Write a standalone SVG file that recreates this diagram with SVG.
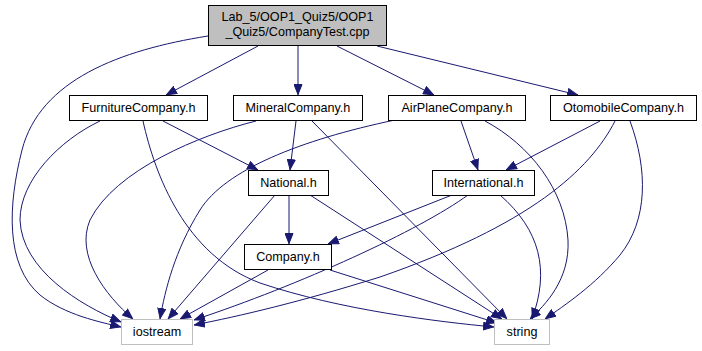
<svg xmlns="http://www.w3.org/2000/svg" width="702" height="351" viewBox="0 0 702 351">
  <style>
    .node rect { fill: #ffffff; stroke: #000000; stroke-width: 1; }
    .node.root rect { fill: #bfbfbf; }
    .node.ext rect { stroke: #bfbfbf; }
    .node text { font-family: "Liberation Sans", Arial, sans-serif; font-size: 12.6px; fill: #000000; text-anchor: middle; }
    .edges path { fill: none; stroke: #191970; stroke-width: 1; marker-end: url(#arrow); }
  </style>
  <defs>
    <marker id="arrow" markerUnits="userSpaceOnUse" markerWidth="11" markerHeight="9" refX="11" refY="4.5" orient="auto">
      <path d="M0.5,0.5 L10.5,4.5 L0.5,8.5 z" fill="#191970" stroke="#191970" stroke-width="1"/>
    </marker>
  </defs>
  <rect width="702" height="351" fill="#ffffff"/>

  <g class="edges">
    <!-- CompanyTest.cpp includes -->
    <path d="M258,46 L166,95"/>
    <path d="M298,46 L298,95"/>
    <path d="M337,46 L434,95"/>
    <path d="M377,46 L578,95"/>
    <path d="M208,36 C120,50 40,80 22,150 C8,205 5,265 40,295 C65,315 100,322 121,327"/>
    <!-- FurnitureCompany.h -->
    <path d="M100,121 C60,140 20,180 20,220 C22,270 80,305 121,322"/>
    <path d="M163,121 L258,170"/>
    <path d="M143,121 C155,175 185,255 260,283 C340,310 440,322 494,327"/>
    <!-- MineralCompany.h -->
    <path d="M256,121 C200,135 115,170 90,220 C75,255 105,295 133,319"/>
    <path d="M296,121 L290,170"/>
    <path d="M312,121 L507,319"/>
    <!-- AirPlaneCompany.h -->
    <path d="M395,120 C300,140 225,170 200,210 C175,250 165,290 160,319"/>
    <path d="M461,121 L478,170"/>
    <path d="M485,121 C530,145 565,190 568,240 C570,280 545,305 530,319"/>
    <!-- OtomobileCompany.h -->
    <path d="M600,121 L506,170"/>
    <path d="M615,121 C590,170 530,225 380,277 C300,302 240,316 194,325"/>
    <path d="M630,121 C648,170 648,220 620,255 C595,285 565,305 545,319"/>
    <!-- National.h -->
    <path d="M289,195 L289,244"/>
    <path d="M275,195 L168,319"/>
    <path d="M310,195 L502,319"/>
    <!-- International.h -->
    <path d="M452,195 L328,244"/>
    <path d="M468,195 C420,230 300,285 194,320"/>
    <path d="M500,195 C540,230 550,270 532,319"/>
    <!-- Company.h -->
    <path d="M268,270 L180,319"/>
    <path d="M330,270 L497,323"/>
  </g>

  <g id="node-companytest" class="node root">
    <rect x="208.5" y="5.5" width="178" height="40"/>
    <text x="297.5" y="21">Lab_5/OOP1_Quiz5/OOP1</text>
    <text x="297.5" y="36">_Quiz5/CompanyTest.cpp</text>
  </g>
  <g id="node-furniture" class="node">
    <rect x="69.5" y="95.5" width="138" height="25"/>
    <text x="138.5" y="112">FurnitureCompany.h</text>
  </g>
  <g id="node-mineral" class="node">
    <rect x="233.5" y="95.5" width="129" height="25"/>
    <text x="298" y="112">MineralCompany.h</text>
  </g>
  <g id="node-airplane" class="node">
    <rect x="388.5" y="95.5" width="137" height="25"/>
    <text x="457" y="112">AirPlaneCompany.h</text>
  </g>
  <g id="node-otomobile" class="node">
    <rect x="550.5" y="95.5" width="146" height="25"/>
    <text x="623.5" y="112">OtomobileCompany.h</text>
  </g>
  <g id="node-national" class="node">
    <rect x="248.5" y="170.5" width="80" height="25"/>
    <text x="288.5" y="187">National.h</text>
  </g>
  <g id="node-international" class="node">
    <rect x="432.5" y="170.5" width="102" height="25"/>
    <text x="483.5" y="187">International.h</text>
  </g>
  <g id="node-company" class="node">
    <rect x="244.5" y="244.5" width="87" height="25"/>
    <text x="288" y="261">Company.h</text>
  </g>
  <g id="node-iostream" class="node ext">
    <rect x="121.5" y="319.5" width="71" height="25"/>
    <text x="157" y="336">iostream</text>
  </g>
  <g id="node-string" class="node ext">
    <rect x="494.5" y="319.5" width="55" height="25"/>
    <text x="522" y="336">string</text>
  </g>
</svg>
